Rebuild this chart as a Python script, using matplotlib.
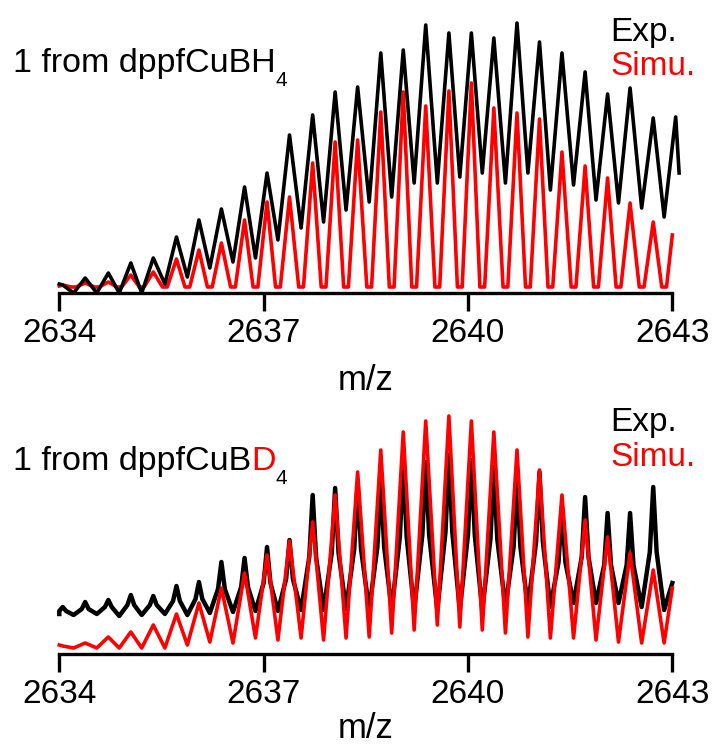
import matplotlib
matplotlib.use("Agg")
import matplotlib.pyplot as plt

plt.rcParams["font.family"] = ["Liberation Sans", "DejaVu Sans"]

FIG_W, FIG_H = 713, 749
RED = "#FF0000"

# isotope peak centres and the minima between them (m/z, charge 3+)
peak_mz = [2634.05, 2634.38, 2634.72, 2635.05, 2635.38, 2635.72, 2636.05, 2636.38, 2636.72,
           2637.05, 2637.38, 2637.72, 2638.05, 2638.38, 2638.72, 2639.05, 2639.38, 2639.72,
           2640.05, 2640.38, 2640.72, 2641.05, 2641.38, 2641.72, 2642.05, 2642.38, 2642.72]
valley_mz = [2634.21, 2634.55, 2634.88, 2635.21, 2635.55, 2635.88, 2636.21, 2636.55, 2636.88,
             2637.21, 2637.55, 2637.88, 2638.21, 2638.55, 2638.88, 2639.21, 2639.55, 2639.88,
             2640.21, 2640.55, 2640.88, 2641.21, 2641.55, 2641.88, 2642.21, 2642.55, 2642.88]
xticks = [2634, 2637, 2640, 2643]

# panel 1: from dppfCuBH4
top_sim_peak = [2, 4, 5, 12, 15, 28, 37, 44, 67, 85, 90, 124, 145, 147, 175, 195, 181, 196,
                204, 179, 174, 168, 135, 121, 109, 84, 65]
top_sim_valley = [0, 0, 0, 0, 0, 0, 0, 0, 0, 0, 0, 0, 0, 0, 0, 0, 0, 0,
                  0, 0, 0, 0, 0, 0, 0, 0, 0]
top_sim_start = (2634.0, 1)
top_sim_tail = ([2643.0], [52])

top_exp_peak = [2, 9, 14, 24, 29, 50, 67, 78, 100, 114, 152, 172, 195, 200, 234, 237, 262, 254,
                254, 249, 264, 245, 234, 215, 193, 199, 169]
top_exp_valley = [-6, -6, -6, -6, 3, 10, 19, 25, 29, 47, 59, 65, 77, 85, 90, 104, 104, 110,
                  114, 104, 114, 97, 102, 87, 84, 79, 70]
top_exp_start = (2634.0, 3)
top_exp_tail = ([2643.05, 2643.1], [170, 114])

# panel 2: from dppfCuBD4
bot_sim_peak = [1, 4, 10, 15, 22, 33, 44, 59, 74, 92, 106, 125, 152, 175, 197, 215, 226, 231,
                226, 215, 197, 177, 152, 127, 110, 94, 77]
bot_sim_valley = [-1, -1, -1, -1, -1, 2, 5, 4, 9, 7, 9, 7, 9, 10, 14, 17, 22, 20,
                  17, 14, 10, 9, 9, 7, 5, 4, 4]
bot_sim_start = (2634.0, 2)
bot_sim_tail = ([2643.0], [59])

bot_exp_peak = [40, 45, 47, 52, 51, 61, 65, 85, 89, 100, 107, 152, 159, 164, 167, 184, 185, 192,
                187, 180, 167, 175, 140, 150, 134, 134, 160]
bot_exp_shoulder = [36, 38, 40, 42, 42, 46, 48, 58, 60, 64, 68, 90, 94, 98, 100, 110, 112, 115,
                    112, 108, 100, 105, 85, 90, 82, 82, 95]
bot_exp_valley = [32, 33, 31, 32, 33, 32, 34, 35, 36, 36, 37, 37, 38, 37, 37, 37, 37, 37,
                  37, 40, 40, 40, 44, 44, 44, 40, 37]
bot_exp_start = (2634.0, 33)
bot_exp_tail = ([2643.0], [64])


def trace(start, peaks, valleys, tail, flat=0.0, shoulders=None, sh_dx=0.05):
    """Build the polyline of a profile spectrum from its maxima and minima."""
    xs, ys = [start[0]], [start[1]]
    for i, (pm, vm) in enumerate(zip(peak_mz, valley_mz)):
        if shoulders is not None:
            xs += [pm - sh_dx, pm, pm + sh_dx]
            ys += [shoulders[i], peaks[i], shoulders[i]]
        else:
            xs.append(pm)
            ys.append(peaks[i])
        if flat:
            xs += [vm - flat, vm + flat]
            ys += [valleys[i], valleys[i]]
        else:
            xs.append(vm)
            ys.append(valleys[i])
    xs += tail[0]
    ys += tail[1]
    return xs, ys


def style_axes(ax, ylim):
    ax.set_xlim(xticks[0], xticks[-1])
    ax.set_ylim(*ylim)
    for side in ["top", "left", "right"]:
        ax.spines[side].set_visible(False)
    ax.spines["bottom"].set_linewidth(2.4)
    ax.set_yticks([])
    ax.set_xticks(xticks)
    ax.set_xticklabels([str(t) for t in xticks])
    ax.tick_params(axis="x", direction="out", length=13, width=2.4, pad=5, labelsize=24)
    ax.patch.set_visible(False)


def rich_text(fig, x, y, parts):
    """Write coloured pieces one after the other, pixel coords from top-left."""
    renderer = fig.canvas.get_renderer()
    for s, color, size, dy in parts:
        t = fig.text(x / FIG_W, 1 - (y + dy) / FIG_H, s, color=color, fontsize=size,
                     ha="left", va="baseline")
        x = t.get_window_extent(renderer).x1


fig = plt.figure(figsize=(FIG_W / 100, FIG_H / 100), dpi=100)

# top panel: axes from y=10 px to y=293 px
ax1 = fig.add_axes([59.3 / FIG_W, 1 - 293 / FIG_H, 613 / FIG_W, 283 / FIG_H])
x, y = trace(top_sim_start, top_sim_peak, top_sim_valley, top_sim_tail, flat=0.035)
ax1.plot(x, y, color=RED, lw=2.6, clip_on=False, zorder=2)
x, y = trace(top_exp_start, top_exp_peak, top_exp_valley, top_exp_tail)
ax1.plot(x, y, color="black", lw=2.6, clip_on=False, zorder=3)
style_axes(ax1, (-6, 277))

# bottom panel: axes from y=380 px to y=654 px
ax2 = fig.add_axes([59.3 / FIG_W, 1 - 654 / FIG_H, 613 / FIG_W, 274 / FIG_H])
x, y = trace(bot_exp_start, bot_exp_peak, bot_exp_valley, bot_exp_tail,
             shoulders=bot_exp_shoulder)
ax2.plot(x, y, color="black", lw=3.2, clip_on=False, zorder=2)
x, y = trace(bot_sim_start, bot_sim_peak, bot_sim_valley, bot_sim_tail)
ax2.plot(x, y, color=RED, lw=2.6, clip_on=False, zorder=3)
style_axes(ax2, (-7, 267))

fig.text(366 / FIG_W, 1 - 381 / FIG_H, "m/z", fontsize=25, ha="center", va="center")
fig.text(366 / FIG_W, 1 - 728 / FIG_H, "m/z", fontsize=25, ha="center", va="center")

fig.canvas.draw()
rich_text(fig, 13, 72, [("1 from dppfCuBH", "black", 24.5, 0), ("4", "black", 15, 14)])
rich_text(fig, 13, 470, [("1 from dppfCuB", "black", 24.5, 0), ("D", RED, 24.5, 0),
                         ("4", "black", 15, 14)])

fig.text(610 / FIG_W, 1 - 41 / FIG_H, "Exp.", fontsize=24, color="black", va="baseline")
fig.text(610 / FIG_W, 1 - 75 / FIG_H, "Simu.", fontsize=24, color=RED, va="baseline")
fig.text(610 / FIG_W, 1 - 431 / FIG_H, "Exp.", fontsize=24, color="black", va="baseline")
fig.text(610 / FIG_W, 1 - 466 / FIG_H, "Simu.", fontsize=24, color=RED, va="baseline")

fig.savefig("out.png", dpi=100)
